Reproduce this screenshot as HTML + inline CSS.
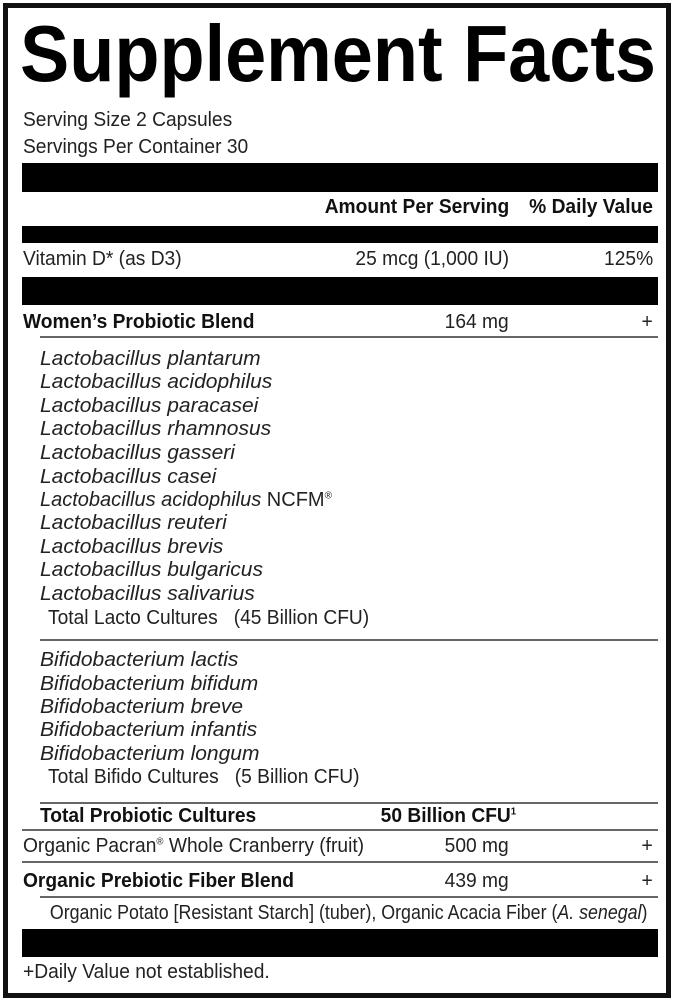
<!DOCTYPE html>
<html><head><meta charset="utf-8"><style>
html,body{margin:0;padding:0;background:#fff;}
#c{position:relative;width:674px;height:1000px;overflow:hidden;background:#fff;font-family:"Liberation Sans",sans-serif;color:#222;}
.b{position:absolute;background:#000;}
.l{position:absolute;height:2px;background:#666;}
.t{position:absolute;white-space:nowrap;font-size:20px;line-height:22px;transform:scaleX(.96);transform-origin:left center;}
.r{transform-origin:right center;text-align:right;}
.bd{font-weight:bold;color:#111;}
.i{font-style:italic;transform:scaleX(1.05);}
sup{font-size:10px;line-height:0;}
</style></head><body><div id="c">
<div style="position:absolute;left:3px;top:3px;width:658px;height:985px;border:5px solid #111;"></div>
<div class="t bd" style="left:20px;top:10px;font-size:80px;line-height:88px;color:#000;transform:scaleX(.923);">Supplement Facts</div>
<div class="t" style="left:23px;top:109px;">Serving Size 2 Capsules</div>
<div class="t" style="left:23px;top:136px;">Servings Per Container 30</div>
<div class="b" style="left:22px;top:163px;width:636px;height:29px;"></div>
<div class="t bd r" style="right:165px;top:196px;">Amount Per Serving</div>
<div class="t bd r" style="right:21px;top:196px;">% Daily Value</div>
<div class="b" style="left:22px;top:226px;width:636px;height:17px;"></div>
<div class="t" style="left:23px;top:248px;">Vitamin D* (as D3)</div>
<div class="t r" style="right:165px;top:248px;">25 mcg (1,000 IU)</div>
<div class="t r" style="right:21px;top:248px;">125%</div>
<div class="b" style="left:22px;top:277px;width:636px;height:28px;"></div>
<div class="t bd" style="left:23px;top:311px;">Women’s Probiotic Blend</div>
<div class="t r" style="right:165px;top:311px;">164 mg</div>
<div class="t r" style="right:21px;top:311px;">+</div>
<div class="l" style="left:40px;top:336px;width:618px;"></div>
<div class="t i" style="left:40px;top:348px;">Lactobacillus plantarum</div>
<div class="t i" style="left:40px;top:371px;">Lactobacillus acidophilus</div>
<div class="t i" style="left:40px;top:395px;">Lactobacillus paracasei</div>
<div class="t i" style="left:40px;top:418px;">Lactobacillus rhamnosus</div>
<div class="t i" style="left:40px;top:442px;">Lactobacillus gasseri</div>
<div class="t i" style="left:40px;top:466px;">Lactobacillus casei</div>
<div class="t" style="left:40px;top:489px;transform:scaleX(1.0);"><i>Lactobacillus acidophilus</i> NCFM<sup>®</sup></div>
<div class="t i" style="left:40px;top:512px;">Lactobacillus reuteri</div>
<div class="t i" style="left:40px;top:536px;">Lactobacillus brevis</div>
<div class="t i" style="left:40px;top:559px;">Lactobacillus bulgaricus</div>
<div class="t i" style="left:40px;top:583px;">Lactobacillus salivarius</div>
<div class="t" style="left:48px;top:607px;">Total Lacto Cultures &nbsp;&nbsp;(45 Billion CFU)</div>
<div class="l" style="left:40px;top:639px;width:618px;"></div>
<div class="t i" style="left:40px;top:649px;">Bifidobacterium lactis</div>
<div class="t i" style="left:40px;top:673px;">Bifidobacterium bifidum</div>
<div class="t i" style="left:40px;top:696px;">Bifidobacterium breve</div>
<div class="t i" style="left:40px;top:719px;">Bifidobacterium infantis</div>
<div class="t i" style="left:40px;top:743px;">Bifidobacterium longum</div>
<div class="t" style="left:48px;top:766px;">Total Bifido Cultures &nbsp;&nbsp;(5 Billion CFU)</div>
<div class="l" style="left:40px;top:802px;width:618px;"></div>
<div class="t bd" style="left:40px;top:805px;">Total Probiotic Cultures</div>
<div class="t bd r" style="right:158px;top:805px;">50 Billion CFU<sup>1</sup></div>
<div class="l" style="left:22px;top:829px;width:636px;"></div>
<div class="t" style="left:23px;top:835px;">Organic Pacran<sup>®</sup> Whole Cranberry (fruit)</div>
<div class="t r" style="right:165px;top:835px;">500 mg</div>
<div class="t r" style="right:21px;top:835px;">+</div>
<div class="l" style="left:22px;top:861px;width:636px;"></div>
<div class="t bd" style="left:23px;top:870px;">Organic Prebiotic Fiber Blend</div>
<div class="t r" style="right:165px;top:870px;">439 mg</div>
<div class="t r" style="right:21px;top:870px;">+</div>
<div class="l" style="left:40px;top:896px;width:618px;"></div>
<div class="t r" style="right:27px;top:902px;transform:scaleX(.89);">Organic Potato [Resistant Starch] (tuber), Organic Acacia Fiber (<i>A. senegal</i>)</div>
<div class="b" style="left:22px;top:929px;width:636px;height:28px;"></div>
<div class="t" style="left:23px;top:961px;">+Daily Value not established.</div>
</div></body></html>
